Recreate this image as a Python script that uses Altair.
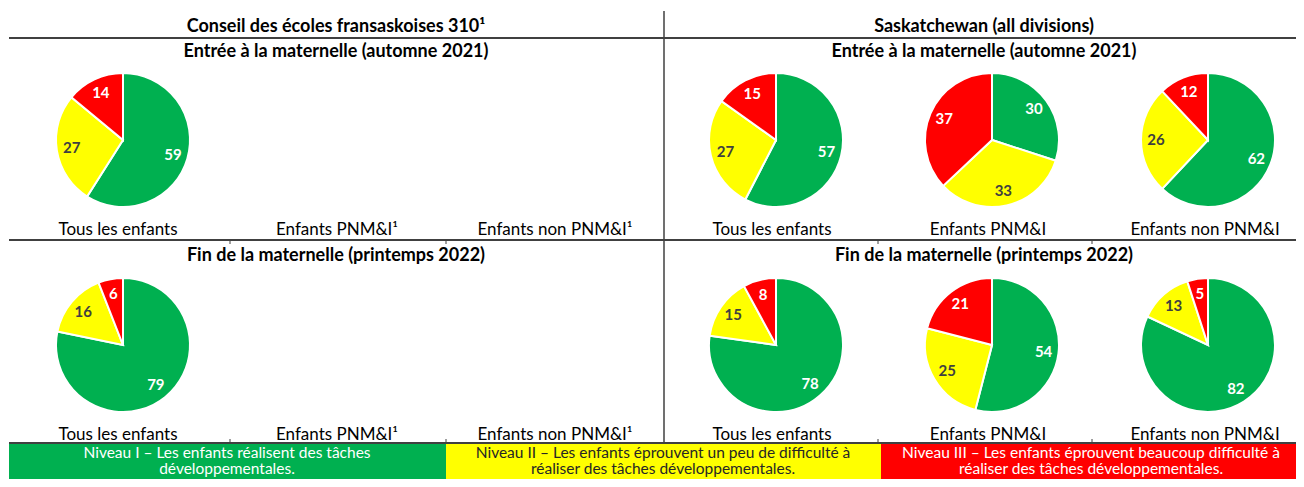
import altair as alt
import pandas as pd

FONT = "Lato"

levels = ["Niveau I", "Niveau II", "Niveau III"]
slice_colors = ["#00B050", "#FFFF00", "#FF0000"]

# Pie values (green, yellow, red)
cef_entree_tous = [59, 27, 14]
cef_fin_tous = [79, 16, 6]
sk_entree_tous = [57, 27, 15]
sk_entree_pnmi = [30, 33, 37]
sk_entree_non = [62, 26, 12]
sk_fin_tous = [78, 15, 8]
sk_fin_pnmi = [54, 25, 21]
sk_fin_non = [82, 13, 5]

header_texts = ["Conseil des écoles fransaskoises 310¹", "Saskatchewan (all divisions)",
                "Entrée à la maternelle (automne 2021)", "Entrée à la maternelle (automne 2021)",
                "Fin de la maternelle (printemps 2022)", "Fin de la maternelle (printemps 2022)"]
header_x = [327, 975, 327, 975, 327, 975]
header_y = [19, 19, 44, 44, 248, 248]

cat_left = ["Tous les enfants", "Enfants PNM&I¹", "Enfants non PNM&I¹"]
cat_right = ["Tous les enfants", "Enfants PNM&I", "Enfants non PNM&I"]
cat_x_left = [109, 328, 546]
cat_x_right = [763, 979, 1196]
cat_rows_y = [222, 427]

legend_line1 = ["Niveau I – Les enfants réalisent des tâches",
                "Niveau II – Les enfants éprouvent un peu de difficulté à",
                "Niveau III – Les enfants éprouvent beaucoup difficulté à"]
legend_line2 = ["développementales.",
                "réaliser des tâches développementales.",
                "réaliser des tâches développementales."]
legend_text_colors = ["#FFFFFF", "#262626", "#FFFFFF"]
legend_x0 = [0, 437, 872]
legend_x1 = [437, 872, 1296]
legend_tx = [218, 654, 1082]

R = 67
LR = 52


def pie(values, cx, cy):
    df = pd.DataFrame({"level": levels, "value": values, "rank": [0, 1, 2]})
    base = alt.Chart(df).encode(
        theta=alt.Theta("value:Q", stack="normalize"),
        order=alt.Order("rank:Q", sort="ascending"),
        x=alt.value(cx), y=alt.value(cy),
    )
    arc = base.mark_arc(outerRadius=R, stroke="white", strokeWidth=2).encode(
        color=alt.Color("level:N", scale=alt.Scale(domain=levels, range=slice_colors), legend=None)
    )
    txt = base.mark_text(radius=LR, font=FONT, fontWeight="bold", fontSize=15).encode(
        text="value:Q",
        color=alt.condition(alt.datum.level == "Niveau II", alt.value("#404040"), alt.value("#FFFFFF")),
    )
    return [arc, txt]


layers = []

# rules
rules = pd.DataFrame({
    "x": [0, 0, 0, 655],
    "x2": [1296, 1296, 1296, 655],
    "y": [30, 232, 435, 3],
    "y2": [30, 232, 435, 435],
    "w": [2, 2, 2, 1.5],
})
layers.append(alt.Chart(rules).mark_rule(color="#404040").encode(
    x=alt.X("x:Q", scale=None), x2="x2:Q",
    y=alt.Y("y:Q", scale=None), y2="y2:Q",
    strokeWidth=alt.StrokeWidth("w:Q", scale=None),
))

ticks = pd.DataFrame({
    "x": [221, 437, 869, 1083, 221, 437, 869, 1083],
    "y": [232, 232, 232, 232, 431, 431, 431, 431],
    "y2": [236, 236, 236, 236, 435, 435, 435, 435],
})
layers.append(alt.Chart(ticks).mark_rule(color="#404040", strokeWidth=1).encode(
    x=alt.X("x:Q", scale=None), y=alt.Y("y:Q", scale=None), y2="y2:Q",
))

# legend boxes
leg = pd.DataFrame({"level": levels, "x0": legend_x0, "x1": legend_x1,
                    "l1": legend_line1, "l2": legend_line2, "tx": legend_tx,
                    "tc": legend_text_colors})
layers.append(alt.Chart(leg).mark_rect().encode(
    x=alt.X("x0:Q", scale=None), x2="x1:Q",
    y=alt.value(436), y2=alt.value(480),
    fill=alt.Fill("level:N", scale=alt.Scale(domain=levels, range=slice_colors), legend=None),
))
layers.append(alt.Chart(leg).mark_text(font=FONT, fontSize=15.5).encode(
    x=alt.X("tx:Q", scale=None), y=alt.value(445), text="l1:N",
    color=alt.Color("tc:N", scale=None),
))
layers.append(alt.Chart(leg).mark_text(font=FONT, fontSize=15.5).encode(
    x=alt.X("tx:Q", scale=None), y=alt.value(461), text="l2:N",
    color=alt.Color("tc:N", scale=None),
))

# headers
hdr = pd.DataFrame({"t": header_texts, "x": header_x, "y": header_y})
layers.append(alt.Chart(hdr).mark_text(font=FONT, fontSize=18, fontWeight="bold", color="#000000").encode(
    x=alt.X("x:Q", scale=None), y=alt.Y("y:Q", scale=None), text="t:N",
))

# category labels
cat_rows = []
for yy in cat_rows_y:
    for t, xx in zip(cat_left, cat_x_left):
        cat_rows.append({"t": t, "x": xx, "y": yy})
    for t, xx in zip(cat_right, cat_x_right):
        cat_rows.append({"t": t, "x": xx, "y": yy})
cats = pd.DataFrame(cat_rows)
layers.append(alt.Chart(cats).mark_text(font=FONT, fontSize=17, color="#000000").encode(
    x=alt.X("x:Q", scale=None), y=alt.Y("y:Q", scale=None), text="t:N",
))

# pies
layers += pie(cef_entree_tous, 114, 132)
layers += pie(sk_entree_tous, 767, 132)
layers += pie(sk_entree_pnmi, 983, 132)
layers += pie(sk_entree_non, 1199, 132)
layers += pie(cef_fin_tous, 114, 337)
layers += pie(sk_fin_tous, 767, 337)
layers += pie(sk_fin_pnmi, 983, 337)
layers += pie(sk_fin_non, 1199, 337)

chart = alt.layer(*layers).properties(
    width=1288, height=471,
    autosize=alt.AutoSizeParams(type="fit", contains="padding"),
    padding=0,
    background="white",
).configure_view(stroke=None)

chart.save("out.html", embed_options={"renderer": "svg", "actions": False})
